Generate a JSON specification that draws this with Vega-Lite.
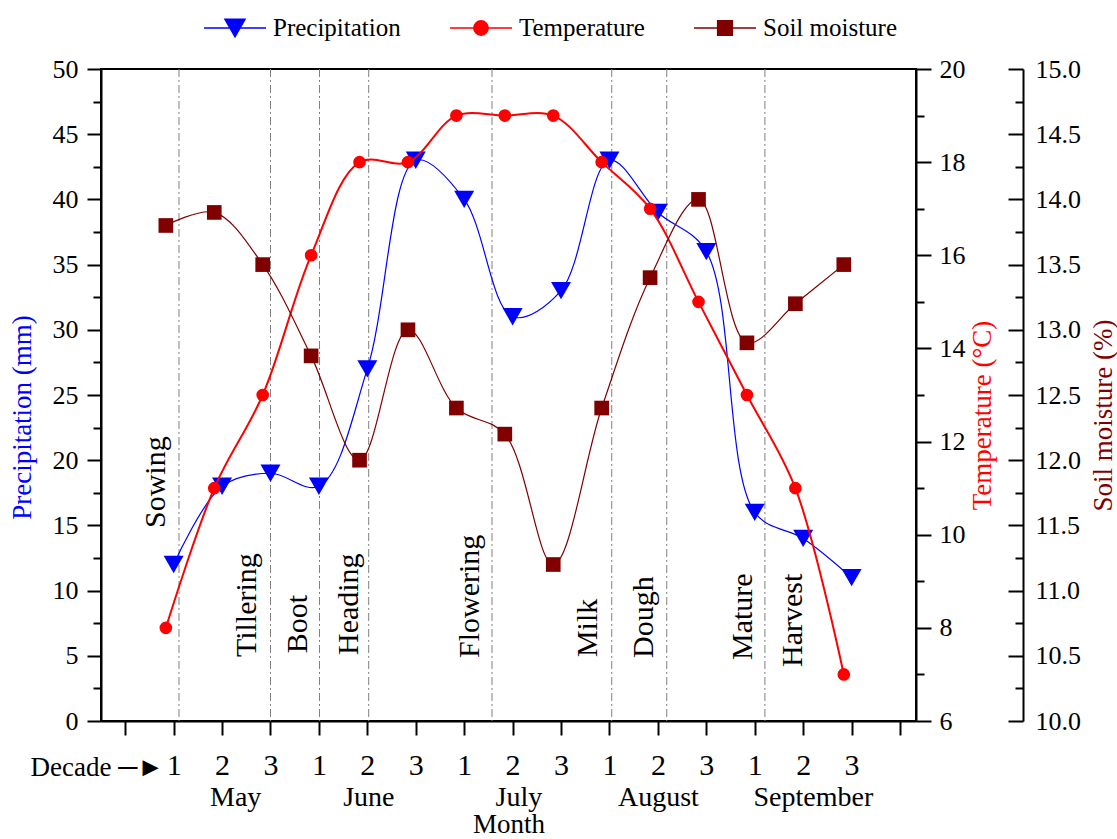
{
  "$schema": "https://vega.github.io/schema/vega-lite/v6.json",
  "width": 815,
  "height": 652,
  "autosize": {"type": "none"},
  "padding": {"left": 101, "top": 69, "right": 201, "bottom": 118},
  "background": "white",
  "config": {
    "view": {"stroke": "black", "strokeWidth": 2},
    "font": "Liberation Serif",
    "axis": {
      "grid": false,
      "domainColor": "black",
      "domainWidth": 2,
      "tickColor": "black",
      "tickWidth": 2,
      "labelFont": "Liberation Serif",
      "labelFontSize": 26,
      "labelColor": "black",
      "labelFlush": false,
      "labelOverlap": false,
      "titleFont": "Liberation Serif",
      "titleFontSize": 27,
      "titleFontWeight": "normal",
      "titleColor": "black"
    },
    "legend": {
      "orient": "none", "legendX": 102, "legendY": -73, "direction": "horizontal",
      "symbolSize": 3844, "symbolOpacity": 1, "labelFont": "Liberation Serif", "labelFontSize": 25, "labelColor": "black",
      "labelOffset": 6, "columnPadding": 46, "padding": 0, "symbolStrokeWidth": 1.5
    }
  },
  "datasets": {
    "clim": [
      {"decade": 1, "precip": 12, "temp": 8, "soil": 13.8},
      {"decade": 2, "precip": 18, "temp": 11, "soil": 13.9},
      {"decade": 3, "precip": 19, "temp": 13, "soil": 13.5},
      {"decade": 4, "precip": 18, "temp": 16, "soil": 12.8},
      {"decade": 5, "precip": 27, "temp": 18, "soil": 12.0},
      {"decade": 6, "precip": 43, "temp": 18, "soil": 13.0},
      {"decade": 7, "precip": 40, "temp": 19, "soil": 12.4},
      {"decade": 8, "precip": 31, "temp": 19, "soil": 12.2},
      {"decade": 9, "precip": 33, "temp": 19, "soil": 11.2},
      {"decade": 10, "precip": 43, "temp": 18, "soil": 12.4},
      {"decade": 11, "precip": 39, "temp": 17, "soil": 13.4},
      {"decade": 12, "precip": 36, "temp": 15, "soil": 14.0},
      {"decade": 13, "precip": 16, "temp": 13, "soil": 12.9},
      {"decade": 14, "precip": 14, "temp": 11, "soil": 13.2},
      {"decade": 15, "precip": 11, "temp": 7, "soil": 13.5}
    ],
    "bounds": [
      {"b": 1.111}, {"b": 3.0}, {"b": 4.012}, {"b": 5.028},
      {"b": 7.574}, {"b": 10.047}, {"b": 11.183}, {"b": 13.21}
    ],
    "stages": [
      {"stage": "Sowing", "x": 0.646, "y": 14.8},
      {"stage": "Tillering", "x": 2.51, "y": 4.9},
      {"stage": "Boot", "x": 3.56, "y": 5.2},
      {"stage": "Heading", "x": 4.62, "y": 5.06},
      {"stage": "Flowering", "x": 7.12, "y": 4.83},
      {"stage": "Milk", "x": 9.56, "y": 4.9},
      {"stage": "Dough", "x": 10.71, "y": 4.83},
      {"stage": "Mature", "x": 12.75, "y": 4.68},
      {"stage": "Harvest", "x": 13.78, "y": 4.14}
    ],
    "series": [
      {"series": "Precipitation"},
      {"series": "Temperature"},
      {"series": "Soil moisture"}
    ]
  },
  "layer": [
    {
      "data": {"name": "bounds"},
      "mark": {"type": "rule", "color": "#808080", "strokeWidth": 1, "strokeDash": [8, 3, 2, 3]},
      "encoding": {
        "x": {
          "field": "b", "type": "quantitative",
          "scale": {"domain": [-0.5, 16.33], "nice": false, "zero": false},
          "axis": {
            "orient": "bottom",
            "values": [0, 1, 2, 3, 4, 5, 6, 7, 8, 9, 10, 11, 12, 13, 14, 15, 16],
            "tickSize": 14,
            "labelPadding": 15,
            "labelFontSize": 30,
            "labelExpr": "datum.value >= 1 && datum.value <= 15 ? '' + ((datum.value - 1) % 3 + 1) : ''",
            "title": "Decade ─►",
            "titleX": -71,
            "titleY": 54,
            "titleAlign": "left",
            "titleBaseline": "alphabetic",
            "titleFontSize": 27
          }
        }
      }
    },
    {
      "data": {"name": "stages"},
      "mark": {"type": "text", "angle": 270, "align": "left", "baseline": "middle", "font": "Liberation Serif", "fontSize": 30, "color": "black"},
      "encoding": {
        "x": {
          "field": "x", "type": "quantitative",
          "scale": {"domain": [-0.5, 16.33], "nice": false, "zero": false},
          "axis": {
            "orient": "bottom",
            "values": [2.27, 5.02, 8.12, 11, 14.2],
            "labelExpr": "datum.value < 3 ? 'May' : datum.value < 6 ? 'June' : datum.value < 9 ? 'July' : datum.value < 12 ? 'August' : 'September'",
            "ticks": false,
            "tickSize": 0,
            "domain": false,
            "labelPadding": 62,
            "labelFontSize": 28,
            "title": "Month",
            "titlePadding": 0
          }
        },
        "y": {"field": "y", "type": "quantitative", "scale": {"domain": [0, 50], "nice": false, "zero": false}, "axis": null},
        "text": {"field": "stage"}
      }
    },
    {
      "data": {"name": "clim"},
      "mark": {"type": "line", "interpolate": "catmull-rom", "color": "#0000FF", "strokeWidth": 1.2},
      "encoding": {
        "x": {"field": "decade", "type": "quantitative", "scale": {"domain": [-0.5, 16.33], "nice": false, "zero": false}, "axis": null},
        "y": {
          "field": "precip", "type": "quantitative",
          "scale": {"domain": [0, 50], "nice": false, "zero": false},
          "axis": {"orient": "left", "values": [2.5, 7.5, 12.5, 17.5, 22.5, 27.5, 32.5, 37.5, 42.5, 47.5], "tickSize": 8, "labels": false, "domain": false, "title": null}
        }
      }
    },
    {
      "data": {"name": "clim"},
      "mark": {"type": "point", "shape": "triangle-down", "filled": true, "size": 400, "opacity": 1, "strokeWidth": 0, "color": "#0000FF"},
      "encoding": {
        "x": {"field": "decade", "type": "quantitative", "scale": {"domain": [-0.5, 16.33], "nice": false, "zero": false}, "axis": null},
        "y": {
          "field": "precip", "type": "quantitative",
          "scale": {"domain": [0, 50], "nice": false, "zero": false},
          "axis": {"orient": "left", "values": [0, 5, 10, 15, 20, 25, 30, 35, 40, 45, 50], "tickSize": 14, "labelPadding": 9, "title": "Precipitation (mm)", "titleColor": "#0000FF", "titleY": 348, "titlePadding": 16}
        }
      }
    },
    {
      "data": {"name": "clim"},
      "mark": {"type": "line", "interpolate": "catmull-rom", "color": "#FF0000", "strokeWidth": 2},
      "encoding": {
        "x": {"field": "decade", "type": "quantitative", "scale": {"domain": [-0.339, 16.491], "nice": false, "zero": false}, "axis": null},
        "y": {
          "field": "temp", "type": "quantitative",
          "scale": {"domain": [6, 20], "nice": false, "zero": false},
          "axis": {"orient": "right", "values": [7, 9, 11, 13, 15, 17, 19], "tickSize": 8, "labels": false, "domain": false, "title": null}
        }
      }
    },
    {
      "data": {"name": "clim"},
      "mark": {"type": "point", "shape": "circle", "filled": true, "size": 160, "opacity": 1, "strokeWidth": 0, "color": "#FF0000"},
      "encoding": {
        "x": {"field": "decade", "type": "quantitative", "scale": {"domain": [-0.339, 16.491], "nice": false, "zero": false}, "axis": null},
        "y": {
          "field": "temp", "type": "quantitative",
          "scale": {"domain": [6, 20], "nice": false, "zero": false},
          "axis": {"orient": "right", "values": [6, 8, 10, 12, 14, 16, 18, 20], "tickSize": 15, "labelPadding": 8, "title": "Temperature (°C)", "titleColor": "#FF0000", "titleAngle": 270, "titleBaseline": "top", "titleY": 346, "titlePadding": 4}
        }
      }
    },
    {
      "data": {"name": "clim"},
      "mark": {"type": "line", "interpolate": "catmull-rom", "color": "#800000", "strokeWidth": 1.2},
      "encoding": {
        "x": {"field": "decade", "type": "quantitative", "scale": {"domain": [-0.339, 16.491], "nice": false, "zero": false}, "axis": null},
        "y": {
          "field": "soil", "type": "quantitative",
          "scale": {"domain": [10, 15], "nice": false, "zero": false},
          "axis": {"orient": "right", "offset": 107, "values": [10.25, 10.75, 11.25, 11.75, 12.25, 12.75, 13.25, 13.75, 14.25, 14.75], "tickSize": -8, "labels": false, "domain": false, "title": null}
        }
      }
    },
    {
      "data": {"name": "clim"},
      "mark": {"type": "point", "shape": "square", "filled": true, "size": 215, "opacity": 1, "strokeWidth": 0, "color": "#800000"},
      "encoding": {
        "x": {"field": "decade", "type": "quantitative", "scale": {"domain": [-0.339, 16.491], "nice": false, "zero": false}, "axis": null},
        "y": {
          "field": "soil", "type": "quantitative",
          "scale": {"domain": [10, 15], "nice": false, "zero": false},
          "axis": {"orient": "right", "offset": 107, "values": [10, 10.5, 11, 11.5, 12, 12.5, 13, 13.5, 14, 14.5, 15], "format": ".1f", "tickSize": -15, "labelPadding": 27, "title": "Soil moisture (%)", "titleColor": "#800000", "titleAngle": 270, "titleBaseline": "top", "titleY": 346, "titlePadding": 10}
        }
      }
    },
    {
      "data": {"name": "series"},
      "mark": {"type": "point", "filled": true, "opacity": 0, "strokeWidth": 1.5},
      "encoding": {
        "fill": {
          "field": "series", "type": "nominal",
          "scale": {"domain": ["Precipitation", "Temperature", "Soil moisture"], "range": ["#0000FF", "#FF0000", "#800000"]},
          "legend": {"title": null}
        },
        "stroke": {
          "field": "series", "type": "nominal",
          "scale": {"domain": ["Precipitation", "Temperature", "Soil moisture"], "range": ["#0000FF", "#FF0000", "#800000"]},
          "legend": {"title": null}
        },
        "shape": {
          "field": "series", "type": "nominal",
          "scale": {
            "domain": ["Precipitation", "Temperature", "Soil moisture"],
            "range": [
              "M-1,0H1M-0.323,-0.279H0.323L0,0.279Z",
              "M-1,0H1M0.231,0A0.231,0.231,0,1,1,-0.231,0A0.231,0.231,0,1,1,0.231,0Z",
              "M-1,0H1M-0.237,-0.237H0.237V0.237H-0.237Z"
            ]
          },
          "legend": {"title": null}
        }
      }
    }
  ],
  "resolve": {
    "scale": {"x": "independent", "y": "independent"},
    "axis": {"x": "independent", "y": "independent"}
  }
}
